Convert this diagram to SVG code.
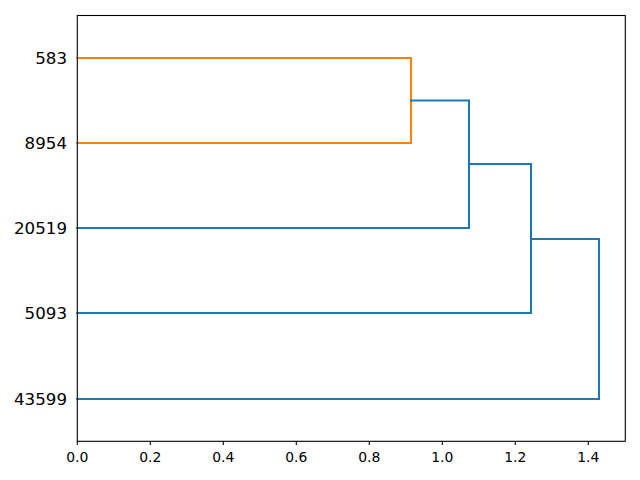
<svg xmlns="http://www.w3.org/2000/svg" width="640" height="480" viewBox="0 0 640 480">
<style>
.c0{fill:none;stroke:#ff7f0e;stroke-width:2.08;stroke-linejoin:miter;stroke-linecap:square}
.c1{fill:none;stroke:#1f77b4;stroke-width:2.08;stroke-linejoin:miter;stroke-linecap:square}
.ax{fill:none;stroke:#000;stroke-width:1.1;stroke-linecap:square}
.tk{stroke:#000;stroke-width:1.1}
.yl{font-family:"DejaVu Sans",sans-serif;font-size:16.67px;fill:#000;text-anchor:end}
.xl{font-family:"DejaVu Sans",sans-serif;font-size:13.9px;fill:#000;text-anchor:middle}
</style>
<rect width="640" height="480" fill="#fff"/>
<g id="connectors">
<path class="c0" d="M77.3,58 H411 V143 H77.3"/>
<path class="c1" d="M411,100.5 H469 V228 H77.3"/>
<path class="c1" d="M469,164 H531 V313 H77.3"/>
<path class="c1" d="M531,239 H599 V399 H77.3"/>
</g>
<g id="axes">
<rect class="ax" x="77.3" y="15.5" width="548" height="425.8"/>
<g id="xticks">
<line class="tk" x1="77.3" y1="441.3" x2="77.3" y2="445"/>
<line class="tk" x1="150.3" y1="441.3" x2="150.3" y2="445"/>
<line class="tk" x1="223.3" y1="441.3" x2="223.3" y2="445"/>
<line class="tk" x1="296.3" y1="441.3" x2="296.3" y2="445"/>
<line class="tk" x1="369.3" y1="441.3" x2="369.3" y2="445"/>
<line class="tk" x1="442.3" y1="441.3" x2="442.3" y2="445"/>
<line class="tk" x1="515.3" y1="441.3" x2="515.3" y2="445"/>
<line class="tk" x1="588.3" y1="441.3" x2="588.3" y2="445"/>
<text class="xl" x="77.3" y="462">0.0</text>
<text class="xl" x="150.3" y="462">0.2</text>
<text class="xl" x="223.3" y="462">0.4</text>
<text class="xl" x="296.3" y="462">0.6</text>
<text class="xl" x="369.3" y="462">0.8</text>
<text class="xl" x="442.3" y="462">1.0</text>
<text class="xl" x="515.3" y="462">1.2</text>
<text class="xl" x="588.3" y="462">1.4</text>
</g>
</g>
<g id="leaf-583"><text class="yl" x="67" y="64.2">583</text></g>
<g id="leaf-8954"><text class="yl" x="67" y="149.2">8954</text></g>
<g id="leaf-20519"><text class="yl" x="67" y="234.2">20519</text></g>
<g id="leaf-5093"><text class="yl" x="67" y="319.2">5093</text></g>
<g id="leaf-43599"><text class="yl" x="67" y="405.2">43599</text></g>
</svg>
